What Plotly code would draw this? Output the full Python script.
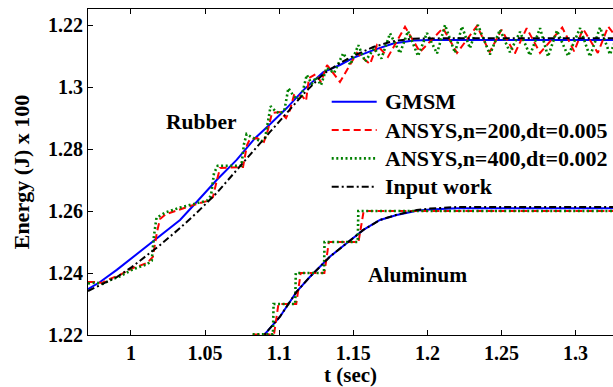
import plotly.graph_objects as go

# ---------------- Rubber ----------------
gmsm_r_t = [0.9710, 0.9791, 0.9904, 1.0005, 1.0106, 1.0196, 1.0331, 1.0443, 1.0578, 1.0713,
            1.0837, 1.0938, 1.1051, 1.1163, 1.1298, 1.1410, 1.1500, 1.1635, 1.1770, 1.1905,
            1.2018, 1.2300, 1.2600, 1.2900, 1.3260]
gmsm_r_e = [1.2348, 1.2371, 1.2410, 1.2448, 1.2484, 1.2519, 1.2571, 1.2629, 1.2700, 1.2765,
            1.2835, 1.2880, 1.2932, 1.2990, 1.3048, 1.3071, 1.3094, 1.3119, 1.3140, 1.3150,
            1.3152, 1.3152, 1.3152, 1.3152, 1.3152]

input_r_t = [0.9710, 0.9904, 1.0005, 1.0196, 1.0331, 1.0443, 1.0578, 1.0713, 1.0837, 1.0938,
             1.1051, 1.1163, 1.1298, 1.1410, 1.1500, 1.1635, 1.1770, 1.1905, 1.2100, 1.3260]
input_r_e = [1.2342, 1.2387, 1.2419, 1.2490, 1.2545, 1.2594, 1.2658, 1.2732, 1.2803, 1.2855,
             1.2916, 1.2977, 1.3042, 1.3077, 1.3100, 1.3129, 1.3148, 1.3156, 1.3157, 1.3157]

ans200_r_t = [0.9710, 0.9757, 0.9804, 0.9858, 0.9926, 1.0013, 1.0108, 1.0148, 1.0175, 1.0196,
              1.0236, 1.0331, 1.0418, 1.0513, 1.0553, 1.0580, 1.0601, 1.0756, 1.0783, 1.0803,
              1.0850, 1.0897, 1.0924, 1.0951, 1.1005, 1.1046, 1.1073, 1.1100, 1.1154, 1.1181,
              1.1201, 1.1248, 1.1282, 1.1323, 1.1410, 1.1525, 1.1613, 1.1660, 1.1734, 1.1849,
              1.1950, 1.2105, 1.2200, 1.2335, 1.2420, 1.2500, 1.2590, 1.2670, 1.2760, 1.2910,
              1.2990, 1.3050, 1.3150, 1.3220, 1.3260]
ans200_r_e = [1.2371, 1.2371, 1.2368, 1.2381, 1.2394, 1.2416, 1.2432, 1.2452, 1.2532, 1.2574,
              1.2590, 1.2606, 1.2619, 1.2632, 1.2645, 1.2700, 1.2739, 1.2742, 1.2813, 1.2832,
              1.2835, 1.2823, 1.2861, 1.2916, 1.2919, 1.2900, 1.2926, 1.2974, 1.2971, 1.2955,
              1.3029, 1.3042, 1.3016, 1.3071, 1.3016, 1.3110, 1.3074, 1.3135, 1.3097, 1.3194,
              1.3113, 1.3190, 1.3110, 1.3197, 1.3112, 1.3185, 1.3108, 1.3190, 1.3110, 1.3192,
              1.3115, 1.3188, 1.3110, 1.3195, 1.3170]

ans400_r_t = [0.9710, 0.9760, 0.9810, 0.9860, 0.9930, 1.0013, 1.0108, 1.0140, 1.0155, 1.0172,
              1.0236, 1.0331, 1.0418, 1.0513, 1.0540, 1.0560, 1.0585, 1.0745, 1.0762, 1.0780,
              1.0815, 1.0850, 1.0880, 1.0905, 1.0925, 1.0942, 1.0975, 1.1005, 1.1035, 1.1062,
              1.1092, 1.1120, 1.1152, 1.1186, 1.1220, 1.1250, 1.1282, 1.1320, 1.1370, 1.1432,
              1.1480, 1.1534, 1.1580, 1.1640, 1.1690, 1.1748, 1.1815, 1.1869, 1.1937, 1.1997,
              1.2065, 1.2119, 1.2186, 1.2233, 1.2287, 1.2341, 1.2422, 1.2490, 1.2557, 1.2625,
              1.2692, 1.2760, 1.2814, 1.2874, 1.2949, 1.3030, 1.3097, 1.3165, 1.3232, 1.3260]
ans400_r_e = [1.2366, 1.2369, 1.2365, 1.2377, 1.2390, 1.2412, 1.2428, 1.2440, 1.2520, 1.2578,
              1.2596, 1.2611, 1.2622, 1.2633, 1.2650, 1.2722, 1.2746, 1.2746, 1.2815, 1.2848,
              1.2838, 1.2830, 1.2824, 1.2835, 1.2885, 1.2938, 1.2922, 1.2914, 1.2925, 1.2996,
              1.2975, 1.2960, 1.2972, 1.3039, 1.3010, 1.3032, 1.3006, 1.3062, 1.3045, 1.3109,
              1.3072, 1.3135, 1.3082, 1.3125, 1.3092, 1.3173, 1.3109, 1.3180, 1.3100, 1.3174,
              1.3108, 1.3200, 1.3110, 1.3195, 1.3125, 1.3200, 1.3105, 1.3185, 1.3112, 1.3178,
              1.3102, 1.3190, 1.3098, 1.3182, 1.3100, 1.3190, 1.3098, 1.3192, 1.3105, 1.3140]

# ---------------- Aluminum ----------------
gmsm_a_t = [1.0880, 1.0904, 1.1005, 1.1062, 1.1118, 1.1208, 1.1275, 1.1343, 1.1455, 1.1568,
            1.1680, 1.1793, 1.1928, 1.2018, 1.2200, 1.3260]
gmsm_a_e = [1.2170, 1.2203, 1.2259, 1.2302, 1.2340, 1.2388, 1.2420, 1.2453, 1.2496, 1.2539,
            1.2571, 1.2587, 1.2601, 1.2605, 1.2609, 1.2609]

input_a_t = [1.0880, 1.0904, 1.1005, 1.1062, 1.1118, 1.1208, 1.1275, 1.1343, 1.1455, 1.1568,
             1.1680, 1.1793, 1.1928, 1.2018, 1.2200, 1.3260]
input_a_e = [1.2170, 1.2203, 1.2259, 1.2302, 1.2340, 1.2388, 1.2420, 1.2453, 1.2496, 1.2539,
             1.2571, 1.2588, 1.2603, 1.2608, 1.2613, 1.2613]

ans200_a_t = [1.0821, 1.0965, 1.0995, 1.1115, 1.1145, 1.1305, 1.1335, 1.1535, 1.1570, 1.3260]
ans200_a_e = [1.2202, 1.2202, 1.2300, 1.2300, 1.2400, 1.2400, 1.2500, 1.2500, 1.2600, 1.2600]

ans400_a_t = [1.0821, 1.0958, 1.0962, 1.1108, 1.1112, 1.1302, 1.1306, 1.1530, 1.1534, 1.3260]
ans400_a_e = [1.2202, 1.2202, 1.2300, 1.2300, 1.2400, 1.2400, 1.2500, 1.2500, 1.2600, 1.2600]

series_names = ["GMSM", "ANSYS,n=200,dt=0.005", "ANSYS,n=400,dt=0.002", "Input work"]

x_tickvals = [1.0, 1.05, 1.1, 1.15, 1.2, 1.25, 1.3]
x_ticktext = ["1", "1.05", "1.1", "1.15", "1.2", "1.25", "1.3"]
y_tickvals = [1.22, 1.24, 1.26, 1.28, 1.30, 1.32]
y_ticktext = ["1.22", "1.24", "1.26", "1.28", "1.3", "1.22"]

for a, b in [(gmsm_r_t, gmsm_r_e), (input_r_t, input_r_e), (ans200_r_t, ans200_r_e),
             (ans400_r_t, ans400_r_e), (gmsm_a_t, gmsm_a_e), (input_a_t, input_a_e),
             (ans200_a_t, ans200_a_e), (ans400_a_t, ans400_a_e)]:
    assert len(a) == len(b)

styles = [
    dict(color="#0000FF", width=2, dash="solid"),
    dict(color="#FF0000", width=2, dash="7px,4px"),
    dict(color="#008000", width=2.6, dash="2px,2.6px"),
    dict(color="#000000", width=2, dash="7px,3px,2px,3px"),
]
data = [
    (gmsm_r_t, gmsm_r_e, gmsm_a_t, gmsm_a_e),
    (ans200_r_t, ans200_r_e, ans200_a_t, ans200_a_e),
    (ans400_r_t, ans400_r_e, ans400_a_t, ans400_a_e),
    (input_r_t, input_r_e, input_a_t, input_a_e),
]

FAM = "Liberation Serif, Times New Roman, Times, DejaVu Serif, serif"


def bfont(size):
    return dict(family=FAM, size=size, color="black", weight="bold")


fig = go.Figure()
for name, st, (rt, re_, at, ae) in zip(series_names, styles, data):
    fig.add_trace(go.Scatter(x=rt + [None] + at, y=re_ + [None] + ae, mode="lines",
                             name=name, line=st, connectgaps=False, showlegend=False))

# legend drawn as line samples + labels (paper coordinates)
leg_x0, leg_x1, leg_tx = 0.4642, 0.5499, 0.5610
leg_rows = [0.7156, 0.6288, 0.5419, 0.4549]
shapes = []
annotations = []
for name, st, yy in zip(series_names, styles, leg_rows):
    shapes.append(dict(type="line", xref="paper", yref="paper", x0=leg_x0, x1=leg_x1,
                       y0=yy, y1=yy, line=dict(color=st["color"], width=st["width"],
                                               dash=st["dash"])))
    annotations.append(dict(x=leg_tx, y=yy, xref="paper", yref="paper", text=name,
                            showarrow=False, xanchor="left", yanchor="middle",
                            font=bfont(22)))

annotations += [
    dict(x=1.0479, y=1.2888, xref="x", yref="y", text="Rubber", showarrow=False,
         font=bfont(21.5)),
    dict(x=1.1930, y=1.2392, xref="x", yref="y", text="Aluminum", showarrow=False,
         font=bfont(21.5)),
]

fig.update_layout(
    width=613, height=387,
    margin=dict(l=88, r=0, t=9, b=52),
    paper_bgcolor="white", plot_bgcolor="white",
    font=bfont(20),
    showlegend=False,
    shapes=shapes,
    annotations=annotations,
    xaxis=dict(range=[0.97099, 1.32524], tickvals=x_tickvals, ticktext=x_ticktext,
               ticks="inside", ticklen=5, tickcolor="black", showline=True,
               linecolor="black", linewidth=1, mirror="ticks", showgrid=False,
               zeroline=False, tickfont=bfont(20),
               title=dict(text="t (sec)", font=bfont(21), standoff=5)),
    yaxis=dict(range=[1.22, 1.32516], tickvals=y_tickvals, ticktext=y_ticktext,
               ticks="inside", ticklen=5, tickcolor="black", showline=True,
               linecolor="black", linewidth=1, mirror=False, showgrid=False,
               zeroline=False, tickfont=bfont(20),
               title=dict(text="Energy (J) x 100", font=bfont(22), standoff=12)),
)

fig.write_html("out.html")
